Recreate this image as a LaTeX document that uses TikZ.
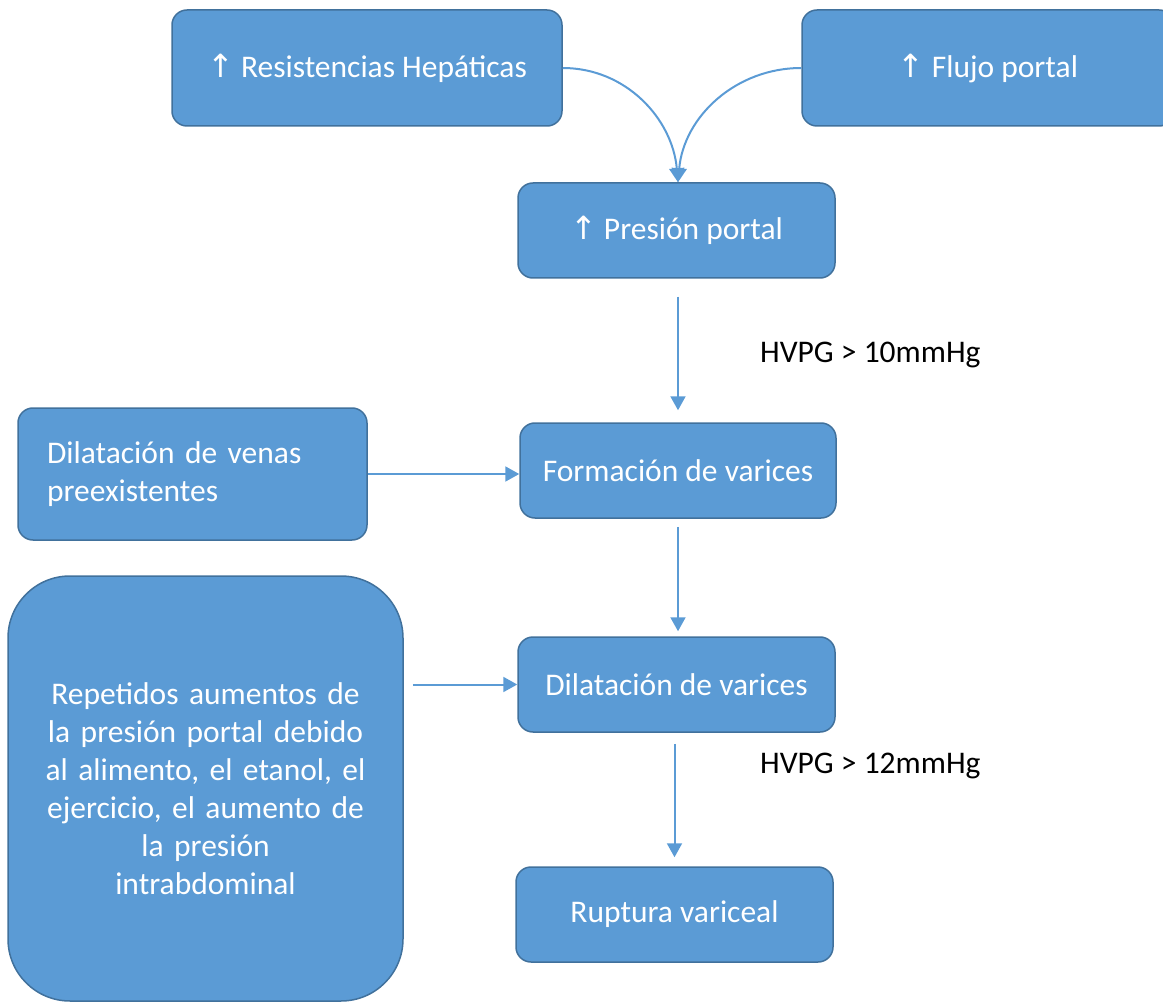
\documentclass[tikz,border=0pt]{standalone}
\usepackage{fontspec}
\setmainfont{Carlito}
\newfontfamily\symfont{DejaVu Sans}
\usetikzlibrary{arrows.meta}
\definecolor{boxfill}{HTML}{5B9BD5}
\definecolor{boxline}{HTML}{41719C}
\newcommand{\uparr}{{\symfont\fontsize{32}{38}\selectfont ↑}}
\tikzset{
  box/.style={draw=boxline, fill=boxfill, line width=1.5pt, rounded corners=15pt,
    text=white, font=\fontsize{31.5}{38}\selectfont, inner sep=0pt, anchor=center},
  arr/.style={draw=boxfill, line width=2pt, -{Triangle[width=15pt,length=14pt]}},
  lbl/.style={font=\fontsize{31.5}{38}\selectfont, text=black, anchor=west, inner sep=0pt}
}
\begin{document}
\begin{tikzpicture}[x=1pt,y=-1pt]
\useasboundingbox (0,0) rectangle (1163,1003);
\begin{scope}
\clip (0,0) rectangle (1163,1003);
\node[box, minimum width=390pt, minimum height=116pt] (rh) at (367,68) {\uparr\ Resistencias Hepáticas};
\node[box, minimum width=372pt, minimum height=116pt] (fp) at (988,68) {\uparr\ Flujo portal};
\node[box, minimum width=317pt, minimum height=95pt] (pp) at (676.5,230.5) {\uparr\ Presión portal};
\node[box, minimum width=316pt, minimum height=95pt] (fv) at (678,470.5) {Formación de varices};
\node[box, minimum width=349pt, minimum height=132pt, text width=291pt, align=left] (dv) at (192.5,474) {Dilatación de venas\\preexistentes};
\node[box, minimum width=395pt, minimum height=425pt, rounded corners=62pt, text width=340pt, align=center] (ra) at (205.5,788.5) {Repetidos aumentos de\\la presión portal debido\\al alimento, el etanol, el\\ejercicio, el aumento de\\la presión\\intrabdominal};
\node[box, minimum width=317pt, minimum height=95pt] (dva) at (676.5,684.5) {Dilatación de varices};
\node[box, minimum width=317pt, minimum height=95pt] (ru) at (674.5,914.5) {Ruptura variceal};
\end{scope}
\node[lbl] (l1) at (760,355) {HVPG > 10mmHg};
\node[lbl] (l2) at (760,766) {HVPG > 12mmHg};
\coordinate (tipA) at ([xshift=1.5pt]pp.north);
\draw[arr] (rh.east) to[out=0,in=95] (tipA);
\draw[arr] (fp.west) to[out=180,in=85] (tipA);
\draw[arr, shorten <=18pt, shorten >=12pt] (fv.north |- pp.south) -- (fv.north);
\draw[arr] (dv.east) -- (dv.east -| fv.west);
\draw[arr, shorten <=8pt, shorten >=5pt] (fv.south) -- (fv.south |- dva.north);
\draw[arr, shorten <=9pt] (ra.east |- dva.west) -- (dva.west);
\draw[arr, shorten <=11pt, shorten >=9pt] (ru.north |- dva.south) -- (ru.north);
\end{tikzpicture}
\end{document}
